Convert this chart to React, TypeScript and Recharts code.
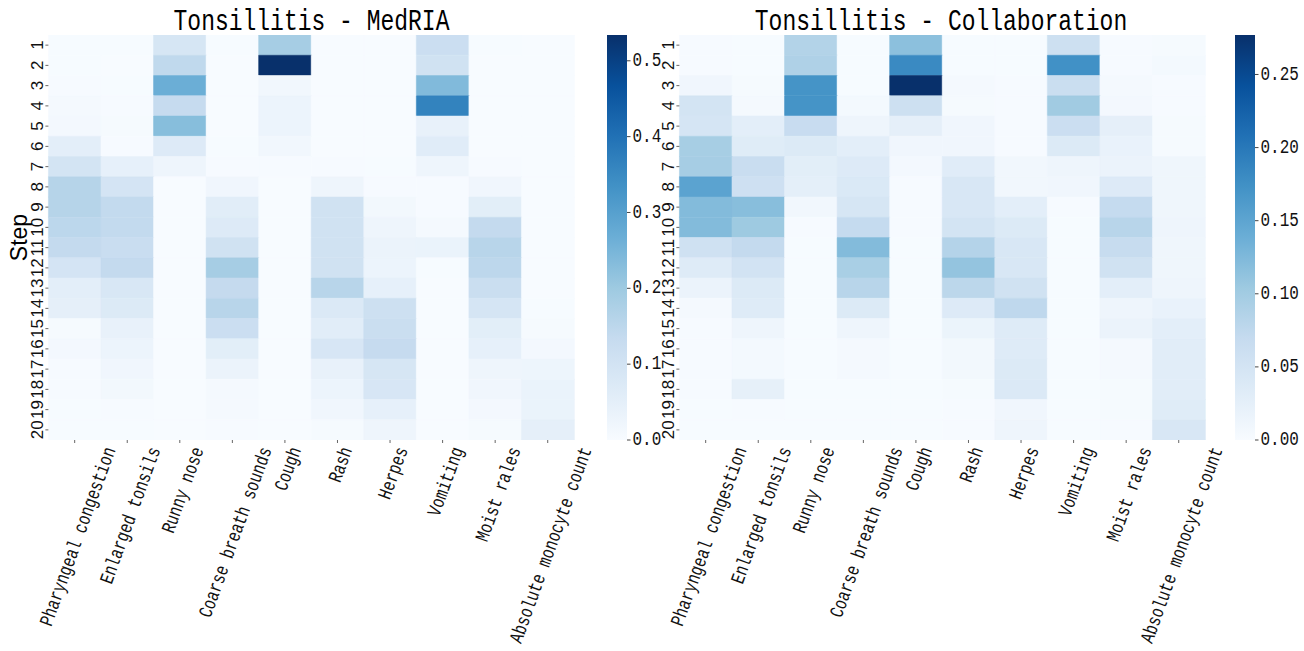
import { BarChart, Bar, XAxis, YAxis, Cell } from 'recharts';

const features = [
	'Pharyngeal congestion',
	'Enlarged tonsils',
	'Runny nose',
	'Coarse breath sounds',
	'Cough',
	'Rash',
	'Herpes',
	'Vomiting',
	'Moist rales',
	'Absolute monocyte count',
];

const steps = ['1', '2', '3', '4', '5', '6', '7', '8', '9', '10', '11', '12', '13', '14', '15', '16', '17', '18', '19', '20'];

// attention weight per step (rows) and feature (columns)
const medriaWeights = [
	[0.002, 0.002, 0.089, 0.002, 0.187, 0.001, 0.001, 0.12, 0.002, 0.001],
	[0.002, 0.001, 0.143, 0.001, 0.534, 0.001, 0.001, 0.106, 0.001, 0.001],
	[0.003, 0.002, 0.267, 0.001, 0.016, 0.001, 0.001, 0.238, 0.001, 0.001],
	[0.007, 0.003, 0.134, 0.001, 0.029, 0.001, 0.001, 0.364, 0.001, 0.001],
	[0.012, 0.005, 0.23, 0.001, 0.029, 0.001, 0.001, 0.04, 0.001, 0.001],
	[0.053, 0.004, 0.07, 0.002, 0.016, 0.001, 0.001, 0.061, 0.001, 0.001],
	[0.097, 0.045, 0.024, 0.004, 0.004, 0.003, 0.002, 0.024, 0.004, 0.001],
	[0.16, 0.095, 0.001, 0.019, 0.001, 0.024, 0.004, 0.004, 0.019, 0.001],
	[0.16, 0.139, 0.001, 0.059, 0.001, 0.105, 0.013, 0.003, 0.056, 0.001],
	[0.15, 0.139, 0.001, 0.07, 0.001, 0.106, 0.024, 0.008, 0.137, 0.001],
	[0.137, 0.125, 0.001, 0.106, 0.001, 0.106, 0.032, 0.035, 0.157, 0.001],
	[0.095, 0.137, 0.001, 0.187, 0.001, 0.106, 0.029, 0.002, 0.149, 0.001],
	[0.053, 0.083, 0.001, 0.136, 0.001, 0.157, 0.045, 0.001, 0.122, 0.001],
	[0.048, 0.072, 0.001, 0.157, 0.001, 0.075, 0.114, 0.001, 0.092, 0.002],
	[0.005, 0.04, 0.001, 0.12, 0.001, 0.058, 0.122, 0.001, 0.056, 0.005],
	[0.011, 0.029, 0.001, 0.056, 0.001, 0.086, 0.134, 0.001, 0.045, 0.011],
	[0.003, 0.019, 0.001, 0.032, 0.001, 0.04, 0.089, 0.001, 0.024, 0.027],
	[0.003, 0.013, 0.001, 0.008, 0.001, 0.029, 0.086, 0.001, 0.019, 0.035],
	[0.002, 0.003, 0.001, 0.008, 0.001, 0.02, 0.045, 0.001, 0.011, 0.035],
	[0.002, 0.002, 0.001, 0.003, 0.001, 0.006, 0.024, 0.001, 0.005, 0.048],
];

const collabWeights = [
	[0.002, 0.001, 0.086, 0.001, 0.116, 0.001, 0.001, 0.059, 0.002, 0.003],
	[0.002, 0.001, 0.089, 0.001, 0.181, 0.001, 0.001, 0.174, 0.002, 0.005],
	[0.01, 0.003, 0.171, 0.001, 0.277, 0.004, 0.002, 0.063, 0.004, 0.002],
	[0.05, 0.004, 0.171, 0.005, 0.059, 0.003, 0.002, 0.101, 0.006, 0.002],
	[0.048, 0.028, 0.067, 0.012, 0.025, 0.01, 0.002, 0.062, 0.025, 0.003],
	[0.096, 0.033, 0.037, 0.028, 0.01, 0.01, 0.002, 0.037, 0.019, 0.003],
	[0.097, 0.065, 0.029, 0.036, 0.006, 0.032, 0.008, 0.013, 0.017, 0.011],
	[0.152, 0.058, 0.026, 0.04, 0.002, 0.043, 0.008, 0.01, 0.036, 0.011],
	[0.122, 0.119, 0.008, 0.046, 0.002, 0.043, 0.028, 0.002, 0.07, 0.011],
	[0.122, 0.104, 0.002, 0.07, 0.002, 0.05, 0.037, 0.001, 0.081, 0.012],
	[0.056, 0.071, 0.001, 0.122, 0.001, 0.085, 0.043, 0.001, 0.068, 0.011],
	[0.035, 0.052, 0.001, 0.094, 0.001, 0.111, 0.043, 0.001, 0.055, 0.011],
	[0.017, 0.037, 0.001, 0.081, 0.001, 0.078, 0.055, 0.001, 0.028, 0.012],
	[0.004, 0.034, 0.001, 0.037, 0.001, 0.036, 0.075, 0.001, 0.012, 0.019],
	[0.002, 0.012, 0.001, 0.013, 0.001, 0.016, 0.035, 0.001, 0.017, 0.028],
	[0.002, 0.005, 0.001, 0.004, 0.001, 0.007, 0.035, 0.001, 0.004, 0.031],
	[0.002, 0.005, 0.001, 0.004, 0.001, 0.007, 0.037, 0.001, 0.004, 0.03],
	[0.002, 0.024, 0.001, 0.001, 0.001, 0.003, 0.039, 0.001, 0.003, 0.031],
	[0.001, 0.002, 0.001, 0.001, 0.001, 0.002, 0.01, 0.001, 0.003, 0.033],
	[0.001, 0.001, 0.001, 0.001, 0.001, 0.002, 0.012, 0.001, 0.002, 0.043],
];

const medriaTicks = [0, 0.1, 0.2, 0.3, 0.4, 0.5];
const collabTicks = [0, 0.05, 0.1, 0.15, 0.2, 0.25];

// matplotlib "Blues"
const BLUES = ['#f7fbff', '#deebf7', '#c6dbef', '#9ecae1', '#6baed6', '#4292c6', '#2171b5', '#08519c', '#08306b'];

function hexRgb(h: string) {
	return [1, 3, 5].map((i) => parseInt(h.slice(i, i + 2), 16));
}

function blues(t: number) {
	const v = Math.max(0, Math.min(1, t)) * (BLUES.length - 1);
	const i = Math.min(Math.floor(v), BLUES.length - 2);
	const f = v - i;
	const a = hexRgb(BLUES[i]);
	const b = hexRgb(BLUES[i + 1]);
	const c = a.map((x, k) => Math.round(x + (b[k] - x) * f));
	return `rgb(${c[0]},${c[1]},${c[2]})`;
}

const MONO = '"Liberation Mono", "DejaVu Sans Mono", monospace';
const SANS = '"Liberation Sans", Arial, sans-serif';

const TOP = 35;
const BOTTOM = 440;
const H = 651;

function FeatureTick({ x, y, payload }: any) {
	const label = String(payload.value);
	const fs = 15;
	const len = label.length * fs * 0.6;
	const a = (70 * Math.PI) / 180;
	const bh = len * Math.sin(a) + fs * 1.2 * Math.cos(a);
	const cy = y + bh / 2;
	return (
		<text
			x={0}
			y={0}
			transform={`translate(${x + 4},${cy}) rotate(-70) scale(1,1.3)`}
			textAnchor="middle"
			dominantBaseline="central"
			fontFamily={MONO}
			fontSize={fs}
			fill="#111"
		>
			{label}
		</text>
	);
}

function StepTick({ x, y, payload }: any) {
	const label = steps[Math.floor(payload.value)];
	return (
		<text
			x={0}
			y={0}
			transform={`translate(${x},${y}) rotate(-90)`}
			textAnchor="middle"
			fontFamily={SANS}
			fontSize={17}
			fill="#111"
		>
			{label}
		</text>
	);
}

function Heatmap({ values, left }: { values: number[][]; left: number }) {
	const vmax = Math.max(...values.flat());
	const data = features.map((name) => {
		const row: Record<string, string | number> = { name };
		steps.forEach((_, r) => (row[`s${r}`] = 1));
		return row;
	});
	return (
		<div style={{ position: 'absolute', left, top: 0 }}>
			<BarChart
				width={660}
				height={H}
				data={data}
				margin={{ top: TOP, right: 86, bottom: 0, left: 0 }}
				barCategoryGap={0}
				barGap={0}
			>
				<XAxis
					dataKey="name"
					type="category"
					interval={0}
					height={H - BOTTOM}
					axisLine={false}
					tickSize={3}
					tickLine={{ stroke: '#666' }}
					tick={<FeatureTick />}
				/>
				<YAxis
					type="number"
					domain={[0, steps.length]}
					reversed
					allowDataOverflow
					interval={0}
					ticks={steps.map((_, i) => i + 0.5)}
					width={48.4}
					axisLine={false}
					tickSize={3}
					tickLine={{ stroke: '#666' }}
					tick={<StepTick />}
				/>
				{steps.map((s, r) => (
					<Bar key={s} dataKey={`s${r}`} stackId="cells" isAnimationActive={false}>
						{features.map((f, c) => {
							const col = blues(values[r][c] / vmax);
							return <Cell key={f} fill={col} stroke={col} strokeWidth={0.5} />;
						})}
					</Bar>
				))}
			</BarChart>
		</div>
	);
}

function CbTick({ x, y, payload, digits }: any) {
	return (
		<text
			x={0}
			y={0}
			transform={`translate(${x},${y}) scale(1,1.3)`}
			dominantBaseline="central"
			fontFamily={MONO}
			fontSize={16}
			fill="#111"
		>
			{Number(payload.value).toFixed(digits)}
		</text>
	);
}

function ColorBar({ values, ticks, digits, left, id }: { values: number[][]; ticks: number[]; digits: number; left: number; id: string }) {
	const vmax = Math.max(...values.flat());
	return (
		<div style={{ position: 'absolute', left, top: 0 }}>
			<BarChart
				width={70}
				height={H}
				data={[{ name: 'cb', v: vmax }]}
				margin={{ top: TOP, right: 0, bottom: H - BOTTOM, left: 0 }}
				barCategoryGap={0}
			>
				<defs>
					<linearGradient id={id} x1="0" y1="1" x2="0" y2="0">
						{BLUES.map((c, i) => (
							<stop key={c} offset={i / (BLUES.length - 1)} stopColor={c} />
						))}
					</linearGradient>
				</defs>
				<XAxis dataKey="name" hide height={0} />
				<YAxis
					orientation="right"
					type="number"
					domain={[0, vmax]}
					allowDataOverflow
					interval={0}
					ticks={ticks}
					width={50}
					axisLine={false}
					tickSize={3.5}
					tickLine={{ stroke: '#444' }}
					tick={<CbTick digits={digits} />}
				/>
				<Bar dataKey="v" fill={`url(#${id})`} isAnimationActive={false} />
			</BarChart>
		</div>
	);
}

function Title({ x, text }: { x: number; text: string }) {
	return (
		<text
			x={0}
			y={0}
			transform={`translate(${x},30) scale(1,1.3)`}
			textAnchor="middle"
			fontFamily={MONO}
			fontSize={23}
			fill="#000"
		>
			{text}
		</text>
	);
}

export default function App() {
	return (
		<div style={{ position: 'fixed', left: 0, top: 0, width: 1304, height: H, background: '#fff', overflow: 'hidden' }}>
			<Heatmap values={medriaWeights} left={0} />
			<ColorBar values={medriaWeights} ticks={medriaTicks} digits={1} left={607} id="cbMedria" />
			<Heatmap values={collabWeights} left={631} />
			<ColorBar values={collabWeights} ticks={collabTicks} digits={2} left={1235} id="cbCollab" />
			<svg width={1304} height={H} style={{ position: 'absolute', left: 0, top: 0, pointerEvents: 'none' }}>
				<Title x={311.5} text="Tonsillitis - MedRIA" />
				<Title x={941} text="Tonsillitis - Collaboration" />
				<text
					x={0}
					y={0}
					transform={`translate(27,${(TOP + BOTTOM) / 2}) rotate(-90)`}
					textAnchor="middle"
					fontFamily={SANS}
					fontSize={23}
					fill="#000"
				>
					Step
				</text>
			</svg>
		</div>
	);
}
